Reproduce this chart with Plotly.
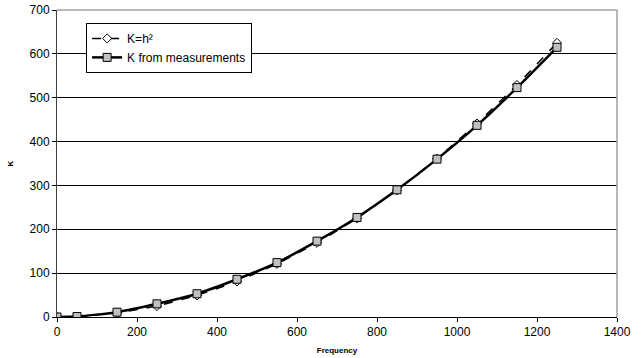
import plotly.graph_objects as go

freq = [0, 50, 150, 250, 350, 450, 550, 650, 750, 850, 950, 1050, 1150, 1250]
k_h2 = [0, 1, 9, 25, 49, 81, 121, 169, 225, 289, 361, 441, 529, 625]
k_meas = [0, 1, 11, 30, 53, 86, 124, 173, 227, 290, 360, 437, 523, 615]

fig = go.Figure()
fig.add_trace(go.Scatter(
    x=freq, y=k_h2, name="K=h²", mode="lines+markers",
    line=dict(color="black", width=1.5, dash="dash"),
    marker=dict(symbol="diamond", size=7, color="white", line=dict(color="black", width=1)),
))
fig.add_trace(go.Scatter(
    x=freq, y=k_meas, name="K from measurements", mode="lines+markers",
    line=dict(color="black", width=2.5, shape="spline", smoothing=0.5),
    marker=dict(symbol="square", size=8, color="#c0c0c0", line=dict(color="black", width=1)),
))

fig.update_layout(
    width=643, height=358,
    margin=dict(l=57, r=26, t=10, b=41, autoexpand=False),
    paper_bgcolor="white", plot_bgcolor="white",
    font=dict(family="Arial, Liberation Sans, sans-serif", size=12, color="black"),
    showlegend=True,
    legend=dict(
        x=0.052, y=0.958, xanchor="left", yanchor="top",
        bordercolor="black", borderwidth=1, bgcolor="white",
        font=dict(size=12), itemwidth=30,
    ),
    xaxis=dict(
        range=[0, 1400], tick0=0, dtick=200, showgrid=False, zeroline=False,
        showline=True, linecolor="black", linewidth=1, automargin=False,
        ticks="outside", ticklen=4, tickcolor="black",
        title=dict(text="<b>Frequency</b>", font=dict(size=8), standoff=8),
    ),
    yaxis=dict(
        range=[0, 700], tick0=0, dtick=100, showgrid=True, gridcolor="black", gridwidth=1,
        zeroline=False, showline=True, linecolor="#404040", linewidth=1, automargin=False,
        ticks="outside", ticklen=4, tickcolor="black",
        title=dict(text="<b>K</b>", font=dict(size=8), standoff=14),
    ),
    shapes=[
        dict(type="line", xref="paper", yref="paper", x0=0, x1=1, y0=1, y1=1,
             line=dict(color="#a0a0a0", width=1.5)),
        dict(type="line", xref="paper", yref="paper", x0=1, x1=1, y0=0, y1=1,
             line=dict(color="#a0a0a0", width=1.5)),
    ],
)

fig.write_html("out.html", config={"displayModeBar": False},
               post_script="document.body.style.margin='0';")
